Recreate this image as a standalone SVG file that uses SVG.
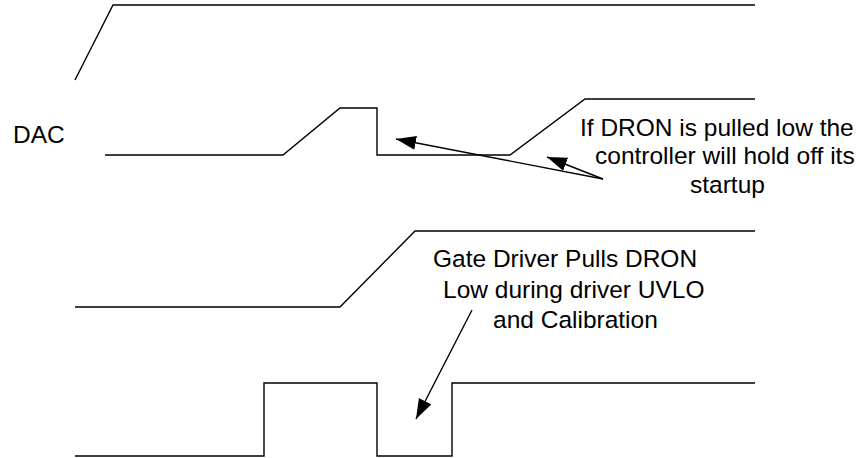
<svg xmlns="http://www.w3.org/2000/svg" width="864" height="458" viewBox="0 0 864 458">
<style>
.tr{fill:none;stroke:#000;stroke-width:1.4;stroke-linejoin:miter}
.ar{fill:none;stroke:#000;stroke-width:1.4}
text{font-family:"Liberation Sans",Arial,sans-serif;font-size:24.5px;fill:#000}
</style>
<defs>
<marker id="ah" markerWidth="22" markerHeight="16" refX="20" refY="7" orient="auto" markerUnits="userSpaceOnUse">
<path d="M0,0 L20,7 L0,14 Z" fill="#000"/>
</marker>
</defs>
<rect width="864" height="458" fill="#fff"/>
<g id="trace1"><polyline class="tr" points="75,80 113,5 755,5"/></g>
<g id="dac-label"><text x="13" y="143">DAC</text></g>
<g id="trace-dac"><polyline class="tr" points="105,155 283,155 340,108 377,108 377,155 510,155 585,99 755,99"/></g>
<g id="trace3"><polyline class="tr" points="75,307 340,307 415,231 755,231"/></g>
<g id="trace4"><polyline class="tr" points="75,456 264,456 264,383 377,383 377,456 452,456 452,383 755,383"/></g>
<g id="note1">
<text x="580" y="136">If DRON is pulled low the</text>
<text x="595" y="164">controller will hold off its</text>
<text x="690" y="193">startup</text>
</g>
<g id="note2">
<text x="433" y="267">Gate Driver Pulls DRON</text>
<text x="443" y="298">Low during driver UVLO</text>
<text x="493" y="328">and Calibration</text>
</g>
<g id="connectors">
<line class="ar" x1="603" y1="179" x2="396" y2="139" marker-end="url(#ah)"/>
<line class="ar" x1="603" y1="179" x2="547" y2="157" marker-end="url(#ah)"/>
<line class="ar" x1="472" y1="310" x2="416" y2="419" marker-end="url(#ah)"/>
</g>
</svg>
